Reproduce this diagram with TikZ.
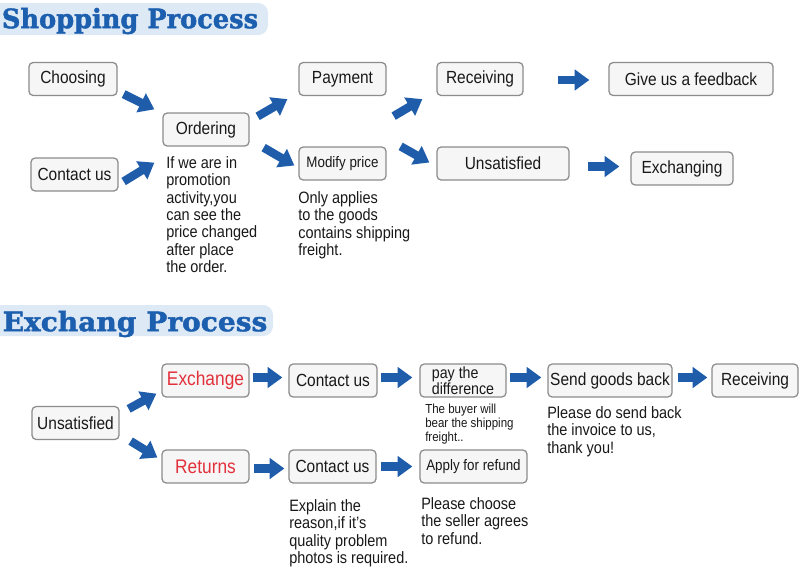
\documentclass[tikz,border=0pt]{standalone}
\usepackage{fontspec}
\usetikzlibrary{arrows.meta}
\setmainfont{Liberation Sans}[FakeStretch=0.88]
\newfontfamily\titlefont{DejaVu Serif}[FakeStretch=0.96, FakeBold=1.6]
\newfontfamily\titlefontwide{DejaVu Serif}[FakeStretch=1.05, FakeBold=1.6]
\definecolor{boxline}{HTML}{8C8C8C}
\definecolor{boxfill}{HTML}{F6F6F6}
\definecolor{arrowblue}{HTML}{1F5DAA}
\definecolor{titleblue}{HTML}{1D5FAF}
\definecolor{bannerfill}{HTML}{DDE9F5}
\definecolor{stepred}{HTML}{E2313B}
\tikzset{
  stage/.style={draw=boxline, fill=boxfill, line width=0.9pt, rounded corners=3pt,
                minimum height=0.825cm, inner sep=1pt, text=black!90,
                font=\fontsize{12.5}{13}\selectfont},
  smallstage/.style={stage, font=\fontsize{10.8}{11}\selectfont},
  redstage/.style={stage, text=stepred, font=\fontsize{14}{15}\selectfont},
  note/.style={anchor=north west, inner sep=0pt, align=left, text=black!90,
               font=\fontsize{11.7}{12.4}\selectfont},
  smallnote/.style={note, font=\fontsize{9.3}{10}\selectfont},
  banner/.style={fill=bannerfill, rounded corners=7pt, inner sep=0pt, text=titleblue},
  flow/.style={arrowblue, line width=6pt, -{Triangle[length=10.5pt, width=14.5pt]}},
}

\begin{document}
\begin{tikzpicture}[x=0.025cm, y=-0.025cm]
    \fill[white] (0,0) rectangle (800,567);
    \useasboundingbox (0,0) rectangle (800,567);

    \fill[bannerfill, rounded corners=7pt] (-10,3) rectangle (268,35);
    \node[banner, fill=none, font=\titlefont\bfseries\fontsize{19}{20}\selectfont] (t1) at (130,21) {Shopping Process};
    \node[stage, minimum width=2.2cm] (choose) at (73,79) {Choosing};
    \node[stage, minimum width=2.175cm] (contact) at (74.5,174.5) {Contact us};
    \node[stage, minimum width=2.15cm] (order) at (206,129.5) {Ordering};
    \node[note] (ordnote) at (166,156) {If we are in\\promotion\\activity,you\\can see the\\price changed\\after place\\the order.};
    \node[stage, minimum width=2.175cm] (pay) at (342.5,79) {Payment};
    \node[smallstage, minimum width=2.175cm] (modify) at (342.5,163.5) {Modify price};
    \node[note] (modnote) at (298,191) {Only applies\\to the goods\\contains shipping\\freight.};
    \node[stage, minimum width=2.15cm] (recv) at (480,79) {Receiving};
    \node[stage, minimum width=3.3cm] (unsat) at (503,163.5) {Unsatisfied};
    \node[stage, minimum width=4.1cm] (feedback) at (691,79) {Give us a feedback};
    \node[stage, minimum width=2.55cm] (exchanging) at (682,168.5) {Exchanging};

    \draw[flow] ([shift={(6,-2)}]choose.south east) -- ([shift={(-8,-3)}]order.north west);
    \draw[flow] ([shift={(5,7)}]contact.east) -- ([shift={(-8,16)}]order.south west);
    \draw[flow] ([shift={(8,4)}]order.north east) -- ([shift={(-11,3)}]pay.south west);
    \draw[flow] ([shift={(14,1)}]order.south east) -- ([shift={(-4,2)}]modify.west);
    \draw[flow] ([shift={(7,20)}]pay.south east) -- ([shift={(-14,3)}]recv.south west);
    \draw[flow] ([shift={(14,0)}]modify.north east) -- ([shift={(-7,-1)}]unsat.west);
    \draw[flow] ([shift={(34,1)}]recv.east) -- ([shift={(-19,1)}]feedback.west);
    \draw[flow] ([shift={(18,3)}]unsat.east) -- ([shift={(-11,-2)}]exchanging.west);

    \fill[bannerfill, rounded corners=7pt] (-10,305) rectangle (273,336);
    \node[banner, fill=none, font=\titlefontwide\bfseries\fontsize{19}{20}\selectfont] (t2) at (135,324) {Exchang Process};
    \node[stage, minimum width=2.175cm] (unsat2) at (75.5,423) {Unsatisfied};
    \node[redstage, minimum width=2.175cm] (exch) at (205.5,380.5) {Exchange};
    \node[redstage, minimum width=2.175cm] (ret) at (205.5,466.5) {Returns};
    \node[stage, minimum width=2.2cm] (contA) at (333,380.5) {Contact us};
    \node[stage, minimum width=2.175cm] (contB) at (332.5,466.5) {Contact us};
    \node[note] (explnote) at (289,499) {Explain the\\reason,if it's\\quality problem\\photos is required.};
    \node[stage, minimum width=2.15cm, align=left, font=\fontsize{11.5}{11.2}\selectfont] (diff) at (463,380.5) {pay the\\difference};
    \node[smallnote] (buyernote) at (425,404) {The buyer will\\bear the shipping\\freight..};
    \node[smallstage, minimum width=2.675cm] (apply) at (473.5,466.5) {Apply for refund};
    \node[note] (applynote) at (421,497) {Please choose\\the seller agrees\\to refund.};
    \node[stage, minimum width=3.1cm] (send) at (610,380.5) {Send goods back};
    \node[note] (sendnote) at (547,406) {Please do send back\\the invoice to us,\\thank you!};
    \node[stage, minimum width=2.15cm] (recv2) at (755,380.5) {Receiving};

    \draw[flow] ([shift={(9,3)}]unsat2.north east) -- ([shift={(-5,-4)}]exch.south west);
    \draw[flow] ([shift={(11,1)}]unsat2.south east) -- ([shift={(-4,-9)}]ret.west);
    \draw[flow] ([shift={(3,-3)}]exch.east) -- ([shift={(-6,-3)}]contA.west);
    \draw[flow] ([shift={(4,2)}]ret.east) -- ([shift={(-4,2)}]contB.west);
    \draw[flow] ([shift={(3,-3)}]contA.east) -- ([shift={(-7,-3)}]diff.west);
    \draw[flow] ([shift={(4,0)}]contB.east) -- ([shift={(-7,0)}]apply.west);
    \draw[flow] ([shift={(3,-3)}]diff.east) -- ([shift={(-6,-3)}]send.west);
    \draw[flow] ([shift={(5,-3)}]send.east) -- ([shift={(-4,-3)}]recv2.west);
  \end{tikzpicture}
\end{document}
